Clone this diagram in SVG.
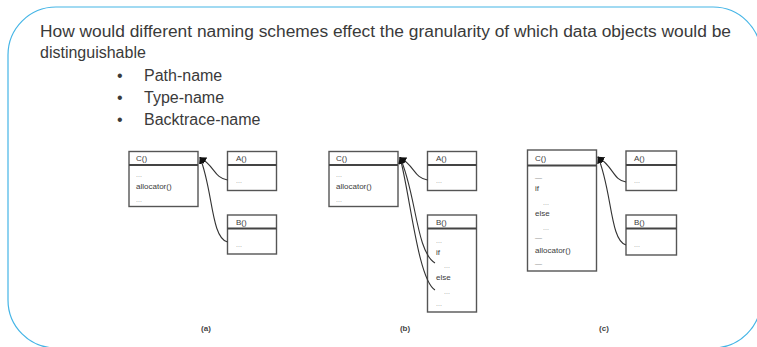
<svg xmlns="http://www.w3.org/2000/svg" width="757" height="347" viewBox="0 0 757 347">
<defs>
<marker id="ah" viewBox="0 0 10 10" refX="9" refY="5" markerWidth="7" markerHeight="7" orient="auto-start-reverse" markerUnits="userSpaceOnUse">
<path d="M0,0 L10,5 L0,10 z" fill="#111"/>
</marker>
<style>
.frame{fill:#fff;stroke:#45b5e6;stroke-width:1.2}
.t{font-family:"Liberation Sans",Arial,sans-serif;font-size:16px;fill:#3a3a3a}
.box{fill:#fff;stroke:#555;stroke-width:1.4}
.hd{stroke:#444;stroke-width:2}
.bt{font-family:"Liberation Sans",Arial,sans-serif;font-size:8px;fill:#3c3c3c}
.dots{font-family:"Liberation Sans",Arial,sans-serif;font-size:7px;fill:#999}
.lab{font-family:"Liberation Sans",Arial,sans-serif;font-size:8px;font-weight:bold;fill:#444}
.c{fill:none;stroke:#333;stroke-width:1.1}
</style>
</defs>
<rect width="757" height="347" fill="#fff"/>
<rect class="frame" x="8" y="7" width="753" height="341" rx="48" ry="48"/>
<g id="title">
<text class="t" x="40" y="37" textLength="691" lengthAdjust="spacingAndGlyphs">How would different naming schemes effect the granularity of which data objects would be</text>
<text class="t" x="40" y="58">distinguishable</text>
<text class="t" x="117" y="81">•</text><text class="t" x="144" y="81">Path-name</text>
<text class="t" x="117" y="103">•</text><text class="t" x="144" y="103">Type-name</text>
<text class="t" x="117" y="125">•</text><text class="t" x="144" y="125">Backtrace-name</text>
</g>
<!-- (a) -->
<g id="a-C">
<rect class="box" x="129" y="151.5" width="69" height="55"/>
<line class="hd" x1="129" y1="165" x2="198" y2="165"/>
<text class="bt" x="136" y="161">C()</text>
<text class="dots" x="136" y="177">...</text>
<text class="bt" x="136" y="189">allocator()</text>
<text class="dots" x="136" y="202">...</text>
</g>
<g id="a-A">
<rect class="box" x="227.5" y="151.5" width="49" height="39"/>
<line class="hd" x1="227.5" y1="165" x2="276.5" y2="165"/>
<text class="bt" x="236" y="161">A()</text>
<text class="dots" x="236" y="183">...</text>
</g>
<g id="a-B">
<rect class="box" x="227.5" y="215" width="49" height="39"/>
<line class="hd" x1="227.5" y1="228.5" x2="276.5" y2="228.5"/>
<text class="bt" x="236" y="225">B()</text>
<text class="dots" x="236" y="247">...</text>
</g>
<!-- (b) -->
<g id="b-C">
<rect class="box" x="329" y="151.5" width="69" height="55"/>
<line class="hd" x1="329" y1="165" x2="398" y2="165"/>
<text class="bt" x="336" y="161">C()</text>
<text class="dots" x="336" y="177">...</text>
<text class="bt" x="336" y="189">allocator()</text>
<text class="dots" x="336" y="202">...</text>
</g>
<g id="b-A">
<rect class="box" x="427.5" y="151.5" width="49" height="39"/>
<line class="hd" x1="427.5" y1="165" x2="476.5" y2="165"/>
<text class="bt" x="436" y="161">A()</text>
<text class="dots" x="436" y="183">...</text>
</g>
<g id="b-B">
<rect class="box" x="427.5" y="215" width="49" height="97"/>
<line class="hd" x1="427.5" y1="228.5" x2="476.5" y2="228.5"/>
<text class="bt" x="436" y="225">B()</text>
<text class="dots" x="436" y="243">...</text>
<text class="bt" x="436" y="255">if</text>
<text class="dots" x="444" y="268">...</text>
<text class="bt" x="436" y="280">else</text>
<text class="dots" x="444" y="294">...</text>
<text class="dots" x="436" y="306">...</text>
</g>
<!-- (c) -->
<g id="c-C">
<rect class="box" x="527.5" y="150" width="69" height="121"/>
<line class="hd" x1="527.5" y1="165.5" x2="596.5" y2="165.5"/>
<text class="bt" x="535" y="161">C()</text>
<text class="dots" x="535" y="180">—</text>
<text class="bt" x="535" y="191">if</text>
<text class="dots" x="543" y="205">...</text>
<text class="bt" x="535" y="216">else</text>
<text class="dots" x="543" y="230">...</text>
<text class="dots" x="535" y="240">—</text>
<text class="bt" x="535" y="253">allocator()</text>
<text class="dots" x="535" y="266">—</text>
</g>
<g id="c-A">
<rect class="box" x="626" y="151" width="50.5" height="39.5"/>
<line class="hd" x1="626" y1="165" x2="676.5" y2="165"/>
<text class="bt" x="634" y="161">A()</text>
<text class="dots" x="634" y="183">...</text>
</g>
<g id="c-B">
<rect class="box" x="626" y="215" width="50.5" height="40"/>
<line class="hd" x1="626" y1="228.5" x2="676.5" y2="228.5"/>
<text class="bt" x="634" y="225">B()</text>
<text class="dots" x="634" y="247">...</text>
</g>
<g id="connectors">
<path class="c" d="M227.5,180 C214,178 215,166 200,157.5" marker-end="url(#ah)"/>
<path class="c" d="M227.5,242 C211,238 213,190 200,157.5" marker-end="url(#ah)"/>
<path class="c" d="M427.5,180 C414,178 415,166 400,157.5" marker-end="url(#ah)"/>
<path class="c" d="M435,263 C416,252 416,192 400,157.5" marker-end="url(#ah)"/>
<path class="c" d="M435,290 C418,280 410,194 400,157.5" marker-end="url(#ah)"/>
<path class="c" d="M626,182 C613,180 614,167 598,157" marker-end="url(#ah)"/>
<path class="c" d="M626,245 C610,241 612,190 598,157" marker-end="url(#ah)"/>
</g>
<g id="labels">
<text class="lab" x="206" y="331" text-anchor="middle">(a)</text>
<text class="lab" x="405" y="331" text-anchor="middle">(b)</text>
<text class="lab" x="604" y="331" text-anchor="middle">(c)</text>
</g>
</svg>
